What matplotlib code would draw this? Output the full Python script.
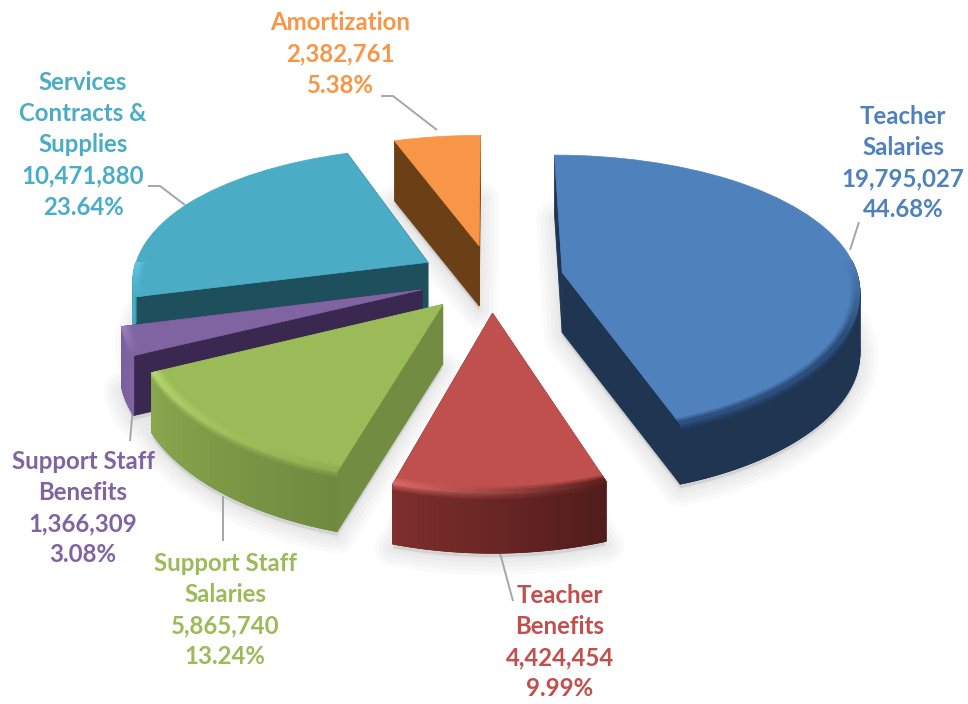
import numpy as np
import matplotlib
matplotlib.use("Agg")
import matplotlib.pyplot as plt
from matplotlib.colors import to_rgb
from matplotlib.transforms import Transform

# ---- data ----
names = ["Teacher\nSalaries", "Teacher\nBenefits", "Support Staff\nSalaries",
         "Support Staff\nBenefits", "Services\nContracts &\nSupplies", "Amortization"]
amounts = [19795027, 4424454, 5865740, 1366309, 10471880, 2382761]
percents = ["44.68%", "9.99%", "13.24%", "3.08%", "23.64%", "5.38%"]

# ---- styles ----
top_colors = ["#4F81BD", "#C0504D", "#9BBB59", "#8064A2", "#4BACC6", "#F79646"]
cut_colors = ["#1F3552", "#6A2725", "#728C42", "#3A2850", "#1D4F5D", "#6B4016"]
outer_from = ["#1F3552", "#7F2F2D", "#8AA84F", "#7A5F9C", "#3FA0BA", "#6B4016"]
outer_to = ["#1F3552", "#501C1B", "#6F8A3F", "#8064A2", "#4BACC6", "#6B4016"]
rim_from = ["#2C5080", "#DB6A65", "#B4D46C", "#9A7DBE", "#62C4E0", "#F79646"]
rim_to = ["#2A4A75", "#5A1F1E", "#8FAE50", "#8064A2", "#4BACC6", "#F79646"]
draw_rank = [2, 5, 4, 3, 1, 0]
label_pos = [(903, 163), (560, 642), (225, 610), (83, 508), (83, 145), (340, 54)]
leaders = [[(850, 250), (859, 222)],
           [(500, 553), (513, 601)],
           [(223, 496), (223, 541)],
           [(133, 407), (130, 441)],
           [(185, 205), (160, 186), (148, 186)],
           [(437, 130), (393, 96), (381, 96)]]
CX, CY, RX, RY, PX, PY, DEPTH = 491, 278, 296, 138, 0.12, 0.162, 60
EXPLODE = 0.245


class Tilt(Transform):
    """Plane of the pie -> pixel coordinates of the figure, at height z below the top."""
    input_dims = 2
    output_dims = 2
    is_separable = False
    has_inverse = False

    def __init__(self, z=0.0):
        super().__init__()
        self.z = z

    def transform_non_affine(self, values):
        v = np.asarray(values, float)
        x, y = v[:, 0], v[:, 1]
        return np.column_stack([CX + RX * x / (1 + PX * y),
                                CY - RY * y / (1 + PY * y) + self.z])


def mix(a, b, t):
    a, b = np.array(to_rgb(a)), np.array(to_rgb(b))
    return tuple(a + (b - a) * t)


plt.rcParams['font.family'] = ['Lato', 'DejaVu Sans']
fig = plt.figure(figsize=(9.68, 7.04), dpi=100)
ax = fig.add_axes([0, 0, 1, 1])
wedges, _ = ax.pie(amounts, colors=top_colors, explode=[EXPLODE] * len(amounts),
                   startangle=90, counterclock=False, radius=1)
ax.set_aspect('auto')
ax.set_xlim(0, 968)
ax.set_ylim(704, 0)
ax.axis('off')


def arc(w, t1, t2, r=1.0, n=60):
    a = np.radians(np.linspace(t1, t2, n))
    return np.column_stack([w.center[0] + r * np.cos(a), w.center[1] + r * np.sin(a)])


def band(pts, z1, z2):
    """Vertical ribbon below a run of plane points, in figure pixels."""
    return np.vstack([Tilt(z1).transform(pts), Tilt(z2).transform(pts)[::-1]])


for i, w in enumerate(wedges):
    base = 10 + 10 * draw_rank[i]
    t1, t2 = w.theta1, w.theta2
    apex = np.array(w.center)

    # soft shadow below the slice
    outline = np.vstack([apex, arc(w, t1, t2)])
    for lw in (26, 20, 14, 8, 3):
        ax.fill(*Tilt(DEPTH + 4).transform(outline).T, facecolor=(0.45, 0.45, 0.45, 0.035),
                edgecolor=(0.45, 0.45, 0.45, 0.035), lw=lw, zorder=1, joinstyle='round')

    # the two straight cut faces, far one first
    ends = sorted((arc(w, t, t, n=1)[0] for t in (t1, t2)), key=lambda e: -max(e[1], apex[1]))
    for k, e in enumerate(ends):
        q = band(np.array([apex, e]), 0, DEPTH)
        ax.fill(*q.T, facecolor=cut_colors[i], edgecolor=cut_colors[i], lw=0.6, zorder=base + 1 + k)

    # outer curved face: only the part turned to the viewer
    lo, hi = max(t1, -180.0), min(t2, 5.0)
    has_outer = hi > lo
    if has_outer:
        edges = np.linspace(lo, hi, 41)
        mid = mix(outer_from[i], outer_to[i], 0.5)
        q = band(arc(w, lo, hi), 0, DEPTH)
        ax.fill(*q.T, facecolor=mid, edgecolor=mid, lw=0.6, zorder=base + 3)
        for j, (a, b) in enumerate(zip(edges[:-1], edges[1:])):
            c = mix(outer_from[i], outer_to[i], (j + 0.5) / 40)
            q = band(arc(w, a, b, n=4), 0, DEPTH)
            ax.fill(*q.T, facecolor=c, edgecolor=c, lw=0.5, zorder=base + 4)

    # top face comes from the pie itself
    w.set_transform(Tilt(0) + ax.transData)
    w.set_zorder(base + 5)
    w.set_clip_on(False)
    w.set_edgecolor(top_colors[i])
    w.set_linewidth(0.5)

    # bevel where the top turns into the outer face
    if has_outer:
        for j, r in enumerate(np.linspace(0.962, 1.0, 6)[:-1]):
            for k, (a, b) in enumerate(zip(edges[:-1], edges[1:])):
                edge = mix(rim_from[i], rim_to[i], (k + 0.5) / 40)
                # the bevel dies away where the rim turns to the back of the pie
                fade = min(1.0, (5.0 - (a + b) / 2) / 30.0) if hi == 5.0 else 1.0
                c = mix(top_colors[i], edge, min(1, j / 3) * fade)
                q = np.vstack([arc(w, a, b, r=r, n=3), arc(w, b, a, r=r + 0.0076, n=3)])
                ax.fill(*Tilt(0).transform(q).T, facecolor=c, edgecolor=c, lw=0.4, zorder=base + 6)
        # rounded lip running over the upper part of the outer face
        for j in range(5):
            for k, (a, b) in enumerate(zip(edges[:-1], edges[1:])):
                f = (k + 0.5) / 40
                c = mix(mix(rim_from[i], rim_to[i], f), mix(outer_from[i], outer_to[i], f), (j + 1) / 5)
                q = band(arc(w, a, b, n=3), j * 1.6, (j + 1) * 1.6)
                ax.fill(*q.T, facecolor=c, edgecolor=c, lw=0.3, zorder=base + 5.5)

# leader lines
for pts in leaders:
    xs, ys = zip(*pts)
    ax.plot(xs, ys, color="#A6A6A6", lw=1.4, zorder=2, solid_capstyle='butt')

# labels
for name, amount, pct, color, (x, y) in zip(names, amounts, percents, top_colors, label_pos):
    ax.text(x, y, f"{name}\n{amount:,}\n{pct}", color=color, ha='center', va='center',
            ma='center', fontsize=17.3, fontweight='bold', linespacing=1.43, zorder=100)

fig.savefig("out.png", dpi=100, facecolor='white')
